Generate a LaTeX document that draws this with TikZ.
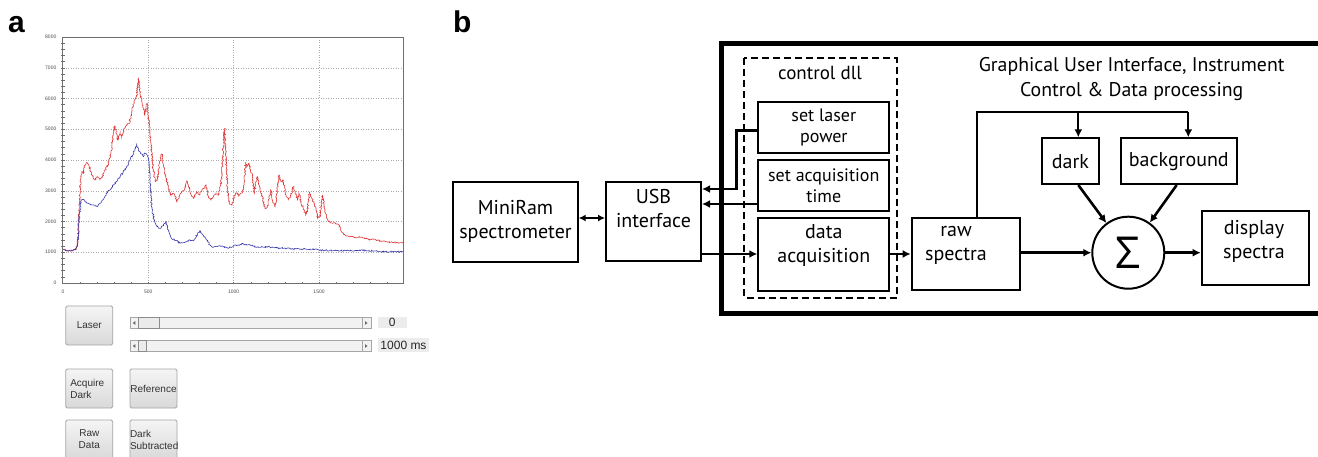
\documentclass[tikz,border=0pt]{standalone}
\usepackage{fontspec}
\setmainfont{PT Sans}
\newfontfamily\uifont{Liberation Sans}
\newfontfamily\symfont{Open Sans}
\usetikzlibrary{arrows.meta,decorations.pathmorphing}
\definecolor{specred}{RGB}{225,55,55}
\definecolor{specblue}{RGB}{55,55,170}
\definecolor{gridgray}{RGB}{170,170,170}
\definecolor{axisgray}{RGB}{110,110,110}
\definecolor{btnedge}{RGB}{165,165,165}
\definecolor{trackfill}{RGB}{242,242,242}
\definecolor{valfill}{RGB}{236,236,236}
\begin{document}
\begin{tikzpicture}[x=1pt,y=-1pt,
  blk/.style={draw,line width=2pt,inner sep=0pt,align=center},
  blkfont/.style={font=\fontsize{20}{24}\selectfont},
  smallfont/.style={font=\fontsize{18}{21}\selectfont},
  boxfont/.style={font=\fontsize{20}{24}\selectfont},
  lbl/.style={inner sep=0pt,align=center},
  arr/.style={line width=2.6pt,-{Latex[length=8pt,width=8pt]}},
  thinarr/.style={line width=2pt,-{Latex[length=8pt,width=8pt]}},
  plain/.style={line width=2pt},
  grid/.style={gridgray,dotted,line width=0.5pt},
  axis/.style={axisgray,line width=0.8pt},
  ticklbl/.style={font=\uifont\fontsize{5}{6}\selectfont,text=black!70,inner sep=0pt},
  btn/.style={draw=btnedge,line width=0.8pt,rounded corners=1.5pt,top color=white!96!black,bottom color=black!15,minimum width=47pt,minimum height=39pt,inner sep=0pt,font=\uifont\fontsize{10}{12}\selectfont,text=black!80,align=center},
  track/.style={draw=black!35,fill=trackfill,line width=0.6pt},
  thumb/.style={draw=black!45,fill=black!8,line width=0.6pt},
  valbox/.style={fill=valfill,inner sep=0pt,font=\uifont\fontsize{12}{14}\selectfont,text=black!85},
  spec/.style={line width=0.6pt,decorate,decoration={random steps,segment length=1pt,amplitude=0.75pt}},
  panel/.style={font=\uifont\bfseries\fontsize{30}{30}\selectfont,inner sep=0pt,anchor=base west}
]
\clip (0,0) rectangle (1318,457);
\fill[white] (0,0) rectangle (1318,457);
\pgfmathsetseed{12}

% panel letters
\node[panel] (pa) at (8,33) {a};
\node[panel] (pb) at (453,33) {b};

% ---------- spectrum plot ----------
\begin{scope}[shift={(63,283)},x=0.1707pt,y=0.03075pt]
  \foreach \v in {1000,2000,...,7000} \draw[grid] (0,\v) -- (1995,\v);
  \foreach \u in {500,1000,1500} \draw[grid] (\u,0) -- (\u,8000);
  \foreach \u in {100,200,...,1900} \draw[axis,line width=0.5pt] (\u,-45) -- (\u,45);
  \foreach \v in {200,400,...,7800} \draw[axis,line width=0.5pt] (-10,\v) -- (10,\v);
  \draw[axis] (-6,0) rectangle (1995,8000);
  \foreach \v in {0,1000,...,8000} \node[ticklbl,anchor=east] (yl\v) at (-38,\v) {\v};
  \foreach \u in {0,500,1000,1500} \node[ticklbl,anchor=north] (xl\u) at (\u,-210) {\u};
\end{scope}

\begin{scope}
  \clip (62,37) rectangle (403,283);
  \begin{scope}[x=0.33333pt,y=-0.33333pt]
  \draw[spec,specred] plot coordinates {
   (190,748) (200,752) (215,752) (228,748) (233,730) (237,640) (242,540) (246,515) (250,520) (255,495) (262,488) (268,500) (275,525) (285,540) (292,530) (300,540) (308,528) (316,510) (325,490) (333,460) (340,400) (344,378) (348,390) (353,420) (360,400) (365,410) (372,390) (380,375) (388,370) (395,335) (403,300) (410,290) (415,235) (420,275) (425,305) (430,325) (435,345) (438,320) (441,310) (445,350) (450,400) (455,450) (460,510) (466,545) (472,540) (478,490) (485,462) (490,495) (497,530) (505,560) (512,585) (518,580) (525,585) (530,605) (538,590) (545,575) (553,570) (560,543) (565,555) (572,580) (580,595) (590,575) (598,585) (606,570) (612,565) (618,555) (625,590) (633,600) (640,590) (648,580) (655,585) (660,570) (665,530) (670,440) (674,385) (677,450) (682,560) (688,612) (695,615) (702,590) (710,578) (716,588) (722,580) (728,575) (733,540) (737,488) (742,498) (747,490) (752,510) (757,530) (763,580) (768,545) (772,530) (776,548) (782,575) (788,595) (795,625) (802,622) (808,595) (812,570) (818,605) (825,620) (832,570) (837,525) (843,545) (850,540) (858,585) (865,600) (872,590) (880,560) (886,575) (892,600) (897,580) (903,605) (910,625) (917,645) (922,630) (928,575) (933,590) (938,600) (942,610) (948,630) (953,655) (960,650) (965,600) (968,585) (972,612) (977,640) (983,660) (990,668) (998,670) (1005,668) (1012,672) (1020,680) (1025,695) (1035,705) (1050,710) (1065,712) (1080,712) (1100,715) (1120,718) (1140,722) (1160,725) (1180,728) (1200,728) (1212,728)};
  \draw[spec,specblue] plot coordinates {
   (190,748) (200,752) (215,752) (228,748) (233,730) (238,650) (244,600) (248,598) (255,605) (265,610) (280,615) (292,620) (300,610) (312,595) (320,580) (330,570) (340,555) (350,545) (360,530) (370,515) (380,500) (390,480) (400,460) (405,450) (410,435) (415,448) (420,455) (425,462) (430,470) (435,460) (440,462) (445,475) (450,540) (455,620) (460,650) (465,668) (472,680) (480,685) (490,675) (497,665) (505,690) (512,710) (520,718) (530,722) (540,730) (550,728) (560,725) (570,720) (580,722) (588,712) (595,698) (600,692) (605,700) (612,710) (620,720) (630,735) (640,742) (655,738) (670,740) (685,745) (700,738) (715,735) (728,730) (740,735) (760,738) (780,742) (800,740) (820,742) (840,745) (860,745) (880,747) (900,748) (920,748) (940,748) (960,750) (1000,752) (1050,752) (1100,752) (1150,755) (1212,755)};
  \end{scope}
\end{scope}

% ---------- controls ----------
\node[btn] (blaser) at (89.3,325.5) {Laser};
\node[btn,text width=38pt,align=left] (bdark) at (89.3,388.5) {Acquire\\Dark};
\node[btn] (bref) at (153.5,388.5) {Reference};
\node[btn] (braw) at (89.3,439.5) {Raw\\Data};
\node[btn,text width=47pt,align=left] (bsub) at (153.5,439.5) {Dark\\Subtracted};

% sliders
\draw[track] (130,317.5) rectangle (371,328.5);
\draw[track] (130,317.5) rectangle (138.3,328.5);
\draw[thumb] (138.3,317.5) rectangle (159,328.5);
\draw[track] (362,317.5) rectangle (371,328.5);
\fill[black!60] (132.8,323) -- (135.3,321.2) -- (135.3,324.8) -- cycle;
\fill[black!60] (367.5,323) -- (365,321.2) -- (365,324.8) -- cycle;

\draw[track] (130,340.5) rectangle (371,351.5);
\draw[track] (130,340.5) rectangle (138.3,351.5);
\draw[thumb] (138.3,340.5) rectangle (146.7,351.5);
\draw[track] (362,340.5) rectangle (371,351.5);
\fill[black!60] (132.8,346) -- (135.3,344.2) -- (135.3,347.8) -- cycle;
\fill[black!60] (367.5,346) -- (365,344.2) -- (365,347.8) -- cycle;

\node[valbox,minimum width=29pt,minimum height=11.6pt] (vpow) at (392.2,322.5) {0};
\node[valbox,minimum width=51.6pt,minimum height=13.4pt] (vtime) at (403.5,345) {1000 ms};

% ---------- block diagram ----------
% outer application frame (runs off the right edge)
\draw[line width=5pt] (1330,43.3) -- (721.5,43.3) -- (721.5,313) -- (1330,313);
% control dll group
\draw[line width=2pt,dash pattern=on 7pt off 4pt] (744,58.3) rectangle (896.7,297.7);
\node[lbl,font=\fontsize{19}{21}\selectfont] (cdll) at (820,73) {control dll};

\node[blk,blkfont,minimum width=124.4pt,minimum height=80pt] (mini) at (515.5,221.7) {MiniRam\\spectrometer};
\node[blk,minimum width=95pt,minimum height=79.3pt] (usb) at (653.5,221.3) {};
\node[lbl,blkfont] (usbt) at (653.5,209) {USB\\interface};

\node[blk,smallfont,minimum width=131pt,minimum height=51pt] (laserp) at (823.8,127.2) {set laser\\power};
\node[blk,smallfont,minimum width=131pt,minimum height=50.7pt] (acqt) at (823.8,185.3) {set acquisition\\time};
\node[blk,minimum width=131pt,minimum height=72.4pt] (dacq) at (823.8,254.5) {};
\node[lbl,blkfont] (dacqt) at (823.8,245) {data\\acquisition};

\node[blk,minimum width=108.3pt,minimum height=72.3pt] (raw) at (965.8,253.8) {};
\node[lbl,blkfont] (rawt) at (956,245) {raw\\spectra};

\node[blk,boxfont,minimum width=57.6pt,minimum height=45.7pt] (dark) at (1070.5,161.2) {dark};
\node[blk,boxfont,minimum width=115.7pt,minimum height=45.7pt] (bg) at (1178.8,161.2) {background};

\node[draw,circle,line width=2pt,minimum size=72pt,inner sep=0pt,font=\symfont\fontsize{44}{44}\selectfont] (sig) at (1128.3,252.7) {Σ};

\node[blk,minimum width=107.6pt,minimum height=74pt] (disp) at (1255.5,248) {};
\node[lbl,blkfont] (dispt) at (1254,241) {display\\spectra};

\node[lbl,font=\fontsize{19.8}{25}\selectfont] (title) at (1131.7,79.3) {Graphical User Interface, Instrument\\Control \& Data processing};

% connectors
\draw[line width=2.4pt,{Latex[length=7pt,width=7pt]}-{Latex[length=7pt,width=7pt]}] (mini.east |- 0,218) -- (usb.west |- 0,218);

\coordinate (kL) at (736.7,130.7);
\coordinate (kU) at (736.7,189);
\draw[arr] (laserp.west |- kL) -- (kL) -- (kU) -- (usb.east |- kU);
\draw[arr] (acqt.west |- 0,204) -- (usb.east |- 0,204);
\draw[arr] (usb.east |- 0,254) -- (dacq.west |- 0,254);
\draw[arr] (dacq.east |- 0,254) -- (raw.west |- 0,254);
\draw[arr] (raw.east |- sig) -- (sig.west);
\draw[arr] (sig.east) -- (disp.west |- sig);

\coordinate (tL) at (977.3,111.7);
\coordinate (tM) at (1078.3,111.7);
\coordinate (tR) at (1188.3,111.7);
\draw[plain] (raw.north -| tL) -- (tL) -- (tR);
\draw[thinarr] (tM) -- (dark.north -| tM);
\draw[thinarr] (tR) -- (bg.north -| tR);
\draw[arr] (dark.south -| tM) -- (sig);
\draw[arr] (bg.south -| 1176.7,0) -- (sig);
\end{tikzpicture}
\end{document}
